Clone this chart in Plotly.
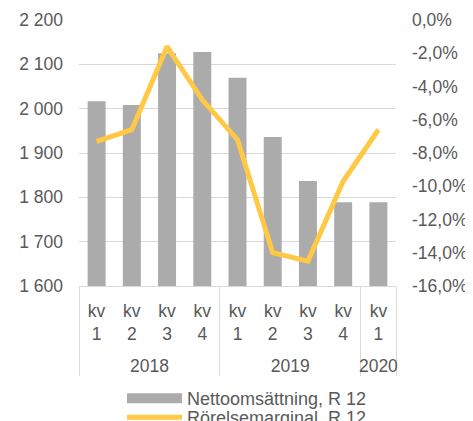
import plotly.graph_objects as go

years = ["2018", "2018", "2018", "2018", "2019", "2019", "2019", "2019", "2020"]
quarters = ["kv<br>1", "kv<br>2", "kv<br>3", "kv<br>4", "kv<br>1", "kv<br>2", "kv<br>3", "kv<br>4", "kv<br>1"]
nettoomsattning = [2017, 2008, 2125, 2128, 2070, 1936, 1837, 1789, 1789]
rorelsemarginal = [-7.3, -6.6, -1.6, -4.8, -7.2, -14.0, -14.5, -9.7, -6.6]

left_ticks = [1600, 1700, 1800, 1900, 2000, 2100, 2200]
left_labels = ["1 600", "1 700", "1 800", "1 900", "2 000", "2 100", "2 200"]
right_ticks = [0, -2, -4, -6, -8, -10, -12, -14, -16]
right_labels = ["0,0%", "-2,0%", "-4,0%", "-6,0%", "-8,0%", "-10,0%", "-12,0%", "-14,0%", "-16,0%"]

text_color = "#595959"
bar_color = "#ABABAB"
line_color = "#FFC845"
grid_color = "#d9d9d9"
fs = 17.5
font = dict(family="Liberation Sans, Arial, sans-serif", size=fs, color=text_color)

W, H = 465, 440  # page body has an 8px margin; figure extends below the window

# small invisible spacer line under the quarter labels to push the year row down
spacer = "<br><span style='font-size:1px'>\u00a0</span>"
x_inner = [q + spacer for q in quarters]

fig = go.Figure()
fig.add_trace(go.Bar(
    x=[years, x_inner], y=nettoomsattning, name="Nettoomsättning, R 12",
    marker=dict(color=bar_color, line=dict(width=0)), yaxis="y", showlegend=False,
))
# legend-only swatch for the bar series (wide rectangle like the original)
fig.add_trace(go.Scatter(
    x=[None], y=[None], name="Nettoomsättning, R 12", mode="lines",
    line=dict(color=bar_color, width=10), yaxis="y", showlegend=True, legend="legend",
))
fig.add_trace(go.Scatter(
    x=[years, x_inner], y=rorelsemarginal, name="Rörelsemarginal, R 12",
    mode="lines", line=dict(color=line_color, width=5), yaxis="y2", legend="legend2",
))

leg_common = dict(orientation="v", xanchor="left", xref="container", yanchor="top",
                  yref="container", font=dict(size=18, color=text_color),
                  tracegroupgap=0, itemwidth=55, bgcolor="rgba(0,0,0,0)")

fig.update_layout(
    width=W, height=H,
    margin=dict(l=71, r=77, t=12, b=162, autoexpand=False),
    paper_bgcolor="white", plot_bgcolor="white",
    font=font,
    bargap=0.49,
    showlegend=True,
    legend=dict(x=114 / W, y=(H - 372) / H, **leg_common),
    legend2=dict(x=114 / W, y=(H - 391) / H, **leg_common),
    xaxis=dict(type="multicategory", showgrid=False, showline=True, linecolor=grid_color,
               linewidth=1, showdividers=True, dividercolor=grid_color, dividerwidth=1,
               ticks="", automargin=False, ticklabelstandoff=9,
               tickfont=dict(size=fs, color=text_color)),
    yaxis=dict(range=[1600, 2200], tickvals=left_ticks, ticktext=left_labels,
               showgrid=True, gridcolor=grid_color, gridwidth=1, zeroline=False,
               showline=False, ticks="", automargin=False, ticklabelstandoff=15,
               tickfont=dict(size=fs, color=text_color)),
    yaxis2=dict(range=[-16, 0], tickvals=right_ticks, ticktext=right_labels,
                overlaying="y", side="right", showgrid=False, zeroline=False,
                showline=False, ticks="", automargin=False, ticklabelstandoff=15,
                tickfont=dict(size=fs, color=text_color)),
)

fig.write_html("out.html")
